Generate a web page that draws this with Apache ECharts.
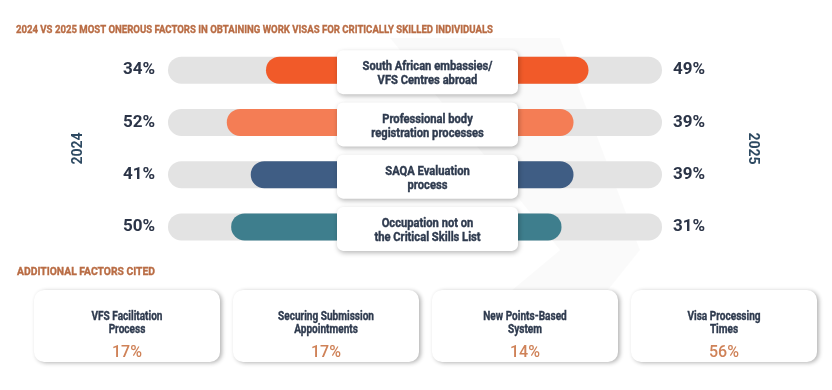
<!DOCTYPE html>
<html><head><meta charset="utf-8">
<script src="https://cdn.jsdelivr.net/npm/echarts@6/dist/echarts.min.js"></script>
<style>html,body{margin:0;padding:0;background:#fff}#c{width:832px;height:390px}</style>
</head><body><div id="c"></div>
<script>
const titleText = '2024 VS 2025 MOST ONEROUS FACTORS IN OBTAINING WORK VISAS FOR CRITICALLY SKILLED INDIVIDUALS';
const subTitleText = 'ADDITIONAL FACTORS CITED';
const factors = ['South African embassies/\nVFS Centres abroad', 'Professional body\nregistration processes', 'SAQA Evaluation\nprocess', 'Occupation not on\nthe Critical Skills List'];
const values2024 = [34, 52, 41, 50];
const values2025 = [49, 39, 39, 31];
const rowColors = ['#F15A29', '#F47D55', '#3F5D84', '#3E7E8D'];
const extraFactors = ['VFS Facilitation\nProcess', 'Securing Submission\nAppointments', 'New Points-Based\nSystem', 'Visa Processing\nTimes'];
const extraValues = [17, 17, 14, 56];

const FONT = 'Roboto, sans-serif';
const NAVY = '#2B3447';
const BROWN = '#B96C44';
const LABEL = '#2E3A4E';

// horizontal condensing factor so Roboto matches the narrow typeface of the original
const mctx = document.createElement('canvas').getContext('2d');
function fitScale(text, font, target) { mctx.font = font; return target / mctx.measureText(text).width; }
const titleScale = fitScale(titleText, 'bold 11px Roboto', 477);
const subScale = fitScale(subTitleText, 'bold 11px Roboto', 138);
const boxScale = fitScale('South African embassies/', 'bold 12.5px Roboto', 130);
const cardScale = fitScale('Securing Submission', 'bold 12px Roboto', 96);

const chart = echarts.init(document.getElementById('c'), null, {renderer: 'canvas'});

const yBase = {
  type: 'category', inverse: true, data: factors,
  axisLine: {show: false}, axisTick: {show: false}, splitLine: {show: false}
};

const option = {
  animation: false,
  backgroundColor: '#ffffff',
  grid: [
    {left: 168, width: 172, top: 44, height: 209, containLabel: false},
    {left: 515, width: 147, top: 44, height: 209, containLabel: false}
  ],
  xAxis: [
    {type: 'value', gridIndex: 0, inverse: true, min: 0, max: 79, show: false},
    {type: 'value', gridIndex: 1, min: 0, max: 98, show: false}
  ],
  yAxis: [
    Object.assign({}, yBase, {
      gridIndex: 0, position: 'left',
      axisLabel: {margin: 13, fontSize: 17, fontWeight: 'bold', color: NAVY, fontFamily: FONT,
        formatter: (v, i) => values2024[i] + '%'},
      name: '2024', nameLocation: 'middle', nameGap: 83, nameRotate: 90,
      nameTextStyle: {fontSize: 14, fontWeight: 'bold', color: '#2E4A62', fontFamily: FONT}
    }),
    Object.assign({}, yBase, {
      gridIndex: 1, position: 'right',
      axisLabel: {margin: 11, fontSize: 17, fontWeight: 'bold', color: NAVY, fontFamily: FONT,
        formatter: (v, i) => values2025[i] + '%'},
      name: '2025', nameLocation: 'middle', nameGap: 83, nameRotate: -90,
      nameTextStyle: {fontSize: 14, fontWeight: 'bold', color: '#2E4A62', fontFamily: FONT}
    })
  ],
  series: [
    {
      name: '2024', type: 'bar', xAxisIndex: 0, yAxisIndex: 0, barWidth: 27, clip: false,
      showBackground: true,
      backgroundStyle: {color: '#E3E3E3', borderRadius: [13.5, 0, 0, 13.5]},
      data: values2024.map((v, i) => ({value: v, itemStyle: {color: rowColors[i], borderRadius: [13.5, 0, 0, 13.5]}}))
    },
    {
      name: '2025', type: 'bar', xAxisIndex: 1, yAxisIndex: 1, barWidth: 27, clip: false,
      showBackground: true,
      backgroundStyle: {color: '#E3E3E3', borderRadius: [0, 13.5, 13.5, 0]},
      data: values2025.map((v, i) => ({value: v, itemStyle: {color: rowColors[i], borderRadius: [0, 13.5, 13.5, 0]}}))
    }
  ]
};
chart.setOption(option);

const graphics = [];
// faint background chevron
graphics.push({
  type: 'polygon', z: -10, silent: true,
  shape: {points: [[390, 38], [560, 38], [640, 250], [600, 300], [500, 300], [560, 250]]},
  style: {fill: 'rgba(0,0,0,0.018)'}
});
// titles
graphics.push({
  type: 'text', z: 60, x: 16, y: 30, scaleX: titleScale,
  style: {text: titleText, align: 'left', verticalAlign: 'middle', fontSize: 11, fontWeight: 'bold', fill: BROWN,
    stroke: BROWN, lineWidth: 0.35, fontFamily: FONT}
});
graphics.push({
  type: 'text', z: 60, x: 17, y: 272, scaleX: subScale,
  style: {text: subTitleText, align: 'left', verticalAlign: 'middle', fontSize: 11, fontWeight: 'bold', fill: BROWN,
    stroke: BROWN, lineWidth: 0.35, fontFamily: FONT}
});
// center label boxes positioned from the category axis scale
factors.forEach((f, i) => {
  const yc = chart.convertToPixel({yAxisIndex: 0}, i);
  graphics.push({
    type: 'rect', z: 50,
    shape: {x: 337, y: yc - 20, width: 181, height: 44, r: 6},
    style: {fill: '#ffffff', shadowBlur: 5, shadowOffsetX: 1, shadowOffsetY: 2, shadowColor: 'rgba(0,0,0,0.28)'}
  });
  graphics.push({
    type: 'text', z: 51,
    x: 427.5, y: yc + 4, scaleX: boxScale,
    style: {text: f, align: 'center', verticalAlign: 'middle', fontSize: 12.5, fontWeight: 'bold', lineHeight: 14,
      fill: LABEL, stroke: LABEL, lineWidth: 0.4, fontFamily: FONT}
  });
});
// additional factor cards
extraFactors.forEach((f, i) => {
  const x = 34 + i * 199;
  graphics.push({
    type: 'rect', z: 50,
    shape: {x: x, y: 290, width: 186, height: 72, r: 10},
    style: {fill: '#ffffff', shadowBlur: 4, shadowOffsetX: 2, shadowOffsetY: 1, shadowColor: 'rgba(0,0,0,0.3)'}
  });
  graphics.push({
    type: 'text', z: 51, x: x + 93, y: 323, scaleX: cardScale,
    style: {text: f, align: 'center', verticalAlign: 'middle', fontSize: 12, fontWeight: 'bold', lineHeight: 13,
      fill: LABEL, stroke: LABEL, lineWidth: 0.35, fontFamily: FONT}
  });
  graphics.push({
    type: 'text', z: 51, x: x + 93, y: 353,
    style: {text: extraValues[i] + '%', align: 'center', verticalAlign: 'middle', fontSize: 16, fontWeight: 500,
      fill: '#CF8258', fontFamily: FONT}
  });
});
chart.setOption({graphic: graphics});
</script>
</body></html>
